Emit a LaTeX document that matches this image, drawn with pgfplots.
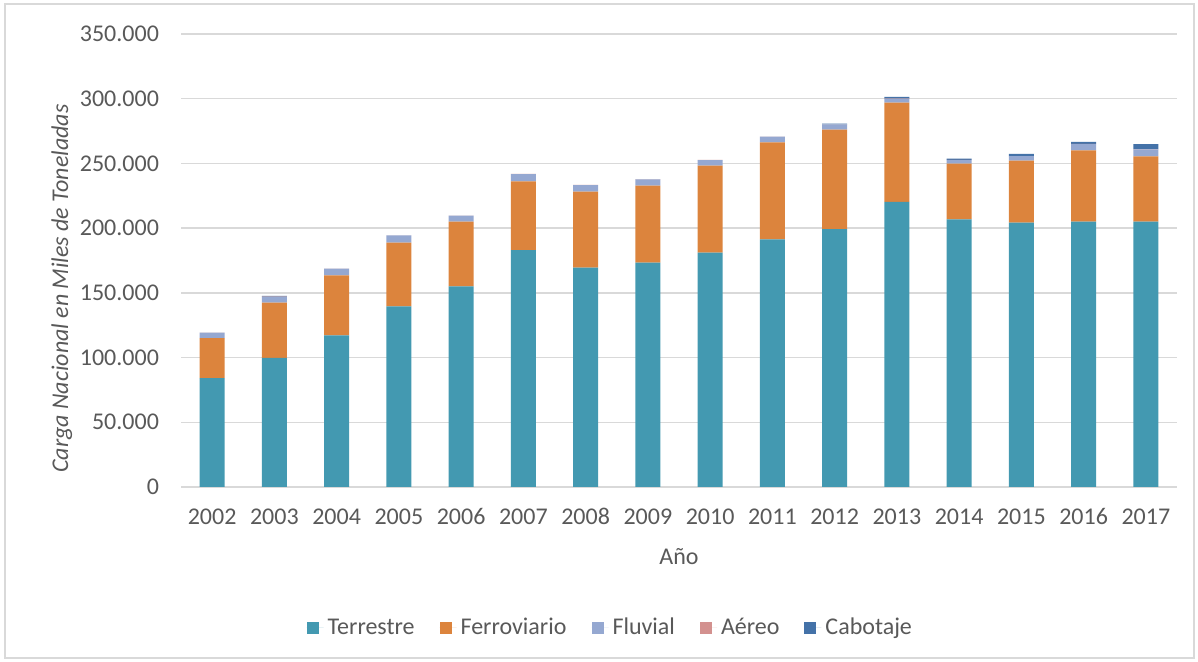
\documentclass[border=0pt]{standalone}
\usepackage{pgfplots}
\pgfplotsset{compat=1.18}
\usepackage{pgfplotstable}
\usepackage{fontspec}
\setmainfont{Carlito}
\definecolor{terr}{HTML}{4399B1}
\definecolor{ferr}{HTML}{DC843D}
\definecolor{fluv}{HTML}{95A8D1}
\definecolor{aer}{HTML}{D3918F}
\definecolor{cab}{HTML}{4472A8}
\definecolor{txt}{HTML}{595959}
\definecolor{grd}{HTML}{D9D9D9}
\pgfplotstableread{
x T F Fl A C
0 84200 30800 4200 100 0
1 99700 42700 4500 100 700
2 117200 46300 5200 100 0
3 139600 49200 5600 100 0
4 155100 49900 4600 100 0
5 183100 53100 5600 100 0
6 169500 58700 5100 100 0
7 173300 59500 4900 100 0
8 181100 67200 4300 100 0
9 191400 74900 4400 100 0
10 199300 76800 4000 100 500
11 220200 76700 3000 100 1400
12 206800 43000 2800 100 1000
13 204200 47900 3500 100 1700
14 205000 55100 4900 100 1500
15 205000 50500 5400 100 3900
}\data
\begin{document}
\begin{tikzpicture}
\begin{axis}[
  at={(90.5pt,87.5pt)}, anchor=south west,
  scale only axis, width=498pt, height=226.5pt,
  ybar stacked, bar width=12.6pt,
  xmin=-0.5, xmax=15.5, ymin=0, ymax=350000,
  xtick={0,1,...,15},
  xticklabels={2002,2003,2004,2005,2006,2007,2008,2009,2010,2011,2012,2013,2014,2015,2016,2017},
  ytick={0,50000,100000,150000,200000,250000,300000,350000},
  scaled y ticks=false,
  /pgf/number format/.cd, fixed, 1000 sep={.}, assume math mode=true, /pgfplots/.cd,
  ymajorgrids, grid style={grd, line width=0.75pt},
  axis line style={draw=none}, major tick length=0pt,
  tick label style={font=\fontsize{12}{14}\selectfont, text=txt},
  xticklabel style={anchor=north, text height=8pt, text depth=0pt, yshift=-7pt},
  yticklabel style={xshift=-7.5pt},
  xlabel={Año},
  ylabel={\itshape Carga Nacional en Miles de Toneladas},
  label style={font=\fontsize{12}{14}\selectfont, text=txt},
  xlabel style={at={(axis description cs:0.5,0)}, yshift=-35pt, anchor=center},
  ylabel style={at={(axis description cs:-0.1195,0.438)}, anchor=center},
  legend style={at={(axis description cs:0.432,-0.311)}, anchor=center, draw=none,
    font=\fontsize{12}{14}\selectfont, text=txt,
    /tikz/every even column/.append style={column sep=10.5pt}},
  legend columns=5,
  legend image code/.code={\fill[#1] (0pt,-3pt) rectangle (6pt,3pt); \path (0pt,0pt) -- (8.5pt,0pt);},
]
\addplot[fill=terr, draw=none] table[x=x, y=T] {\data};
\addplot[fill=ferr, draw=none] table[x=x, y=F] {\data};
\addplot[fill=fluv, draw=none] table[x=x, y=Fl] {\data};
\addplot[fill=aer, draw=none] table[x=x, y=A] {\data};
\addplot[fill=cab, draw=none] table[x=x, y=C] {\data};
\legend{Terrestre, Ferroviario, Fluvial, Aéreo, Cabotaje}
\end{axis}
\draw[grd, line width=0.6pt] (2.5pt,2pt) rectangle (597pt,329pt);
\pgfresetboundingbox
\path[use as bounding box] (0,0) rectangle (599pt,331pt);
\end{tikzpicture}
\end{document}
